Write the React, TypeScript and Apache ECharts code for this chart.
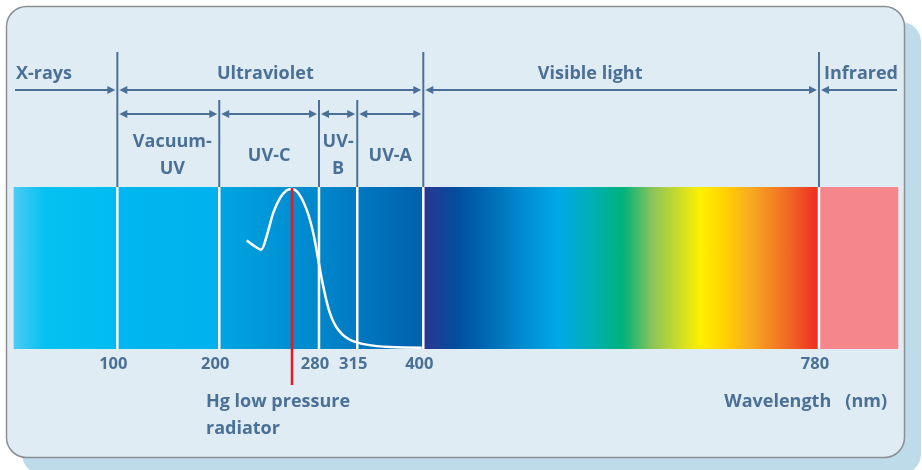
import React, { useEffect, useRef } from "react";
import * as echarts from "echarts";

// Wavelength ticks (nm) and where each sits along the non-linear axis (% of the spectrum bar width)
const tickNm = [100, 200, 280, 315, 400, 780];
const tickPos = [11.69, 23.22, 34.5, 38.83, 46.3, 91.06];

const majorBands = ["X-rays", "Ultraviolet", "Visible light", "Infrared"];
const majorFrom: (number | null)[] = [null, 100, 400, 780];
const majorTo: (number | null)[] = [100, 400, 780, null];

const uvBands = ["Vacuum-\nUV", "UV-C", "UV-\nB", "UV-A"];
const uvFrom = [100, 200, 280, 315];
const uvTo = [200, 280, 315, 400];

const majorBoundaries = [100, 400, 780];
const minorBoundaries = [200, 280, 315];

const spectrumFrom: (number | null)[] = [null, 100, 200, 400, 780];
const spectrumTo: (number | null)[] = [100, 200, 400, 780, null];

// Relative absorption curve (white line)
const curveNm = [222, 227.3, 233.5, 238, 243.3, 248.7, 254.1, 258.1, 263.4, 270.1, 275.4, 279.4, 283.9, 290, 297.6, 308.3, 327, 357, 398];
const curveAbs = [0.669, 0.64, 0.613, 0.696, 0.84, 0.932, 0.98, 0.988, 0.963, 0.86, 0.716, 0.551, 0.387, 0.222, 0.119, 0.057, 0.027, 0.012, 0.008];

const hgLineNm = 258;

// ---- styles ----
const INK = "#4b7096";
const FONT = "Open Sans";
const FW = 700;
const FS = 18;
const SEG_FILLS: [number, string][][] = [
  [[0, "#4dcbf3"], [0.3, "#05c1f1"], [1, "#00bbf0"]],
  [[0, "#00b7ef"], [1, "#00b1ed"]],
  [[0, "#00a5e3"], [0.49, "#0087cb"], [0.68, "#0079c1"], [1, "#0060ab"]],
  [
    [0, "#2b3590"], [0.09, "#0050a0"], [0.18, "#0070b8"], [0.27, "#0092d6"], [0.34, "#00a8e8"],
    [0.42, "#00afb8"], [0.505, "#00b27a"], [0.58, "#8cc45a"], [0.7, "#fff000"], [0.76, "#ffd200"],
    [0.83, "#f8a820"], [0.92, "#f06a24"], [1, "#ee2a24"],
  ],
  [[0, "#f4868c"], [1, "#f4868c"]],
];
const LABEL_SHIFT: Record<string, number> = { Ultraviolet: -5, "Visible light": -31, "Vacuum-\nUV": 4 };

function toPos(nm: number): number {
  const n = tickNm.length;
  let i = 0;
  if (nm >= tickNm[n - 1]) i = n - 2;
  else if (nm > tickNm[0]) {
    while (i < n - 2 && nm > tickNm[i + 1]) i++;
  }
  return tickPos[i] + ((nm - tickNm[i]) * (tickPos[i + 1] - tickPos[i])) / (tickNm[i + 1] - tickNm[i]);
}
const edgePos = (nm: number | null, edge: number) => (nm == null ? edge : toPos(nm));

export default function App() {
  const ref = useRef<HTMLDivElement>(null);
  useEffect(() => {
    if (!ref.current) return;
    const chart = echarts.init(ref.current, undefined, { renderer: "svg" });

    const bandNames = [...majorBands, ...uvBands];
    const bandData = [
      ...majorBands.map((_, i) => [edgePos(majorFrom[i], 0), edgePos(majorTo[i], 100), 0, majorFrom[i] == null ? 1 : 0, majorTo[i] == null ? 1 : 0]),
      ...uvBands.map((_, i) => [toPos(uvFrom[i]), toPos(uvTo[i]), 1, 0, 0]),
    ];
    const boundaryData = [
      ...majorBoundaries.map((nm) => [toPos(nm), 1]),
      ...minorBoundaries.map((nm) => [toPos(nm), 0]),
    ];

    const arrowHead = (tipX: number, y: number, dir: number) => ({
      type: "polygon",
      shape: { points: [[tipX, y], [tipX - dir * 8, y - 4], [tipX - dir * 8, y + 4]] },
      style: { fill: INK },
    });

    const option: any = {
      animation: false,
      grid: { left: 14, top: 187, width: 884, height: 162 },
      xAxis: {
        type: "value",
        min: 0,
        max: 100,
        axisLine: { show: false },
        axisTick: { show: false },
        splitLine: { show: false },
        axisLabel: {
          customValues: tickPos,
          formatter: (v: number) => {
            const i = tickPos.findIndex((p) => Math.abs(p - v) < 1e-6);
            return i >= 0 ? String(tickNm[i]) : "";
          },
          color: INK,
          fontFamily: FONT,
          fontWeight: FW,
          fontSize: 16.5,
          margin: 5,
          padding: [0, 8, 0, 0],
        },
      },
      yAxis: { type: "value", min: 0, max: 1, show: false },
      graphic: [
        { type: "rect", z: -10, shape: { x: 22, y: 22, width: 899, height: 452, r: 20 }, style: { fill: "#bddbe8" } },
        { type: "rect", z: -9, shape: { x: 6.5, y: 6.5, width: 898, height: 451, r: 20 }, style: { fill: "#e0ecf4", stroke: "#8c8f92", lineWidth: 1.5 } },
        {
          type: "text", z: 10, x: 206, y: 413.5,
          style: { text: "Hg low pressure\nradiator", fill: INK, fontFamily: FONT, fontWeight: FW, fontSize: FS, lineHeight: 27, align: "left", verticalAlign: "middle" },
        },
        {
          type: "text", z: 10, x: 887, y: 400,
          style: { text: "Wavelength   (nm)", fill: INK, fontFamily: FONT, fontWeight: FW, fontSize: FS, align: "right", verticalAlign: "middle" },
        },
      ],
      series: [
        {
          type: "custom",
          z: 1,
          data: spectrumFrom.map((f, i) => [edgePos(f, 0), edgePos(spectrumTo[i], 100)]),
          encode: { x: [0, 1] },
          renderItem: (params: any, api: any) => {
            const a = api.coord([api.value(0), 1]);
            const b = api.coord([api.value(1), 0]);
            return {
              type: "rect",
              shape: { x: a[0] - 0.3, y: a[1], width: b[0] - a[0] + 0.6, height: b[1] - a[1] },
              style: {
                fill: new echarts.graphic.LinearGradient(0, 0, 1, 0, SEG_FILLS[params.dataIndex].map(([o, c]) => ({ offset: o, color: c }))),
              },
            };
          },
        },
        {
          type: "line",
          z: 3,
          data: curveNm.map((nm, i) => [toPos(nm), curveAbs[i]]),
          smooth: 0.3,
          symbol: "none",
          lineStyle: { color: "#ffffff", width: 2.5 },
        },
        {
          type: "custom",
          z: 4,
          data: boundaryData,
          encode: { x: 0 },
          renderItem: (params: any, api: any) => {
            const t = api.coord([api.value(0), 1]);
            const bottom = api.coord([api.value(0), 0])[1];
            const top = api.value(1) ? 52 : 100;
            return {
              type: "group",
              children: [
                { type: "line", shape: { x1: t[0], y1: top, x2: t[0], y2: t[1] }, style: { stroke: INK, lineWidth: 2 } },
                { type: "line", shape: { x1: t[0], y1: t[1], x2: t[0], y2: bottom }, style: { stroke: "#ffffff", lineWidth: 2.5 } },
              ],
            };
          },
        },
        {
          type: "custom",
          z: 5,
          data: [[toPos(hgLineNm)]],
          encode: { x: 0 },
          renderItem: (params: any, api: any) => {
            const t = api.coord([api.value(0), 1]);
            const x = Math.round(t[0]);
            return { type: "line", shape: { x1: x, y1: t[1] + 1, x2: x, y2: 385 }, style: { stroke: "#f0141e", lineWidth: 2.5 } };
          },
        },
        {
          type: "custom",
          z: 5,
          data: bandData,
          encode: { x: [0, 1] },
          renderItem: (params: any, api: any) => {
            const name = bandNames[params.dataIndex];
            const row = api.value(2);
            const fromEdge = api.value(3) === 1;
            const toEdge = api.value(4) === 1;
            const x1 = api.coord([api.value(0), 0])[0];
            const x2 = api.coord([api.value(1), 0])[0];
            const y = row === 0 ? 90 : 114;
            const s = x1 + (fromEdge ? 1 : 2);
            const e = x2 - (toEdge ? 1 : 2);
            const children: any[] = [
              { type: "line", shape: { x1: s + (fromEdge ? 0 : 3), y1: y, x2: e - (toEdge ? 0 : 3), y2: y }, style: { stroke: INK, lineWidth: 2 } },
            ];
            if (!fromEdge) children.push(arrowHead(s, y, -1));
            if (!toEdge) children.push(arrowHead(e, y, 1));
            let tx = (x1 + x2) / 2 + (LABEL_SHIFT[name] || 0);
            let align = "center";
            if (fromEdge) { tx = x1 + 2; align = "left"; }
            else if (toEdge) { tx = x2; align = "right"; }
            children.push({
              type: "text",
              x: tx,
              y: row === 0 ? 72 : 153.5,
              style: { text: name, fill: INK, fontFamily: FONT, fontWeight: FW, fontSize: FS, lineHeight: 27, align, verticalAlign: "middle" },
            });
            return { type: "group", children };
          },
        },
      ],
    };
    chart.setOption(option);
    return () => chart.dispose();
  }, []);
  return <div ref={ref} style={{ position: "fixed", left: 0, top: 0, width: 922, height: 470 }} />;
}
